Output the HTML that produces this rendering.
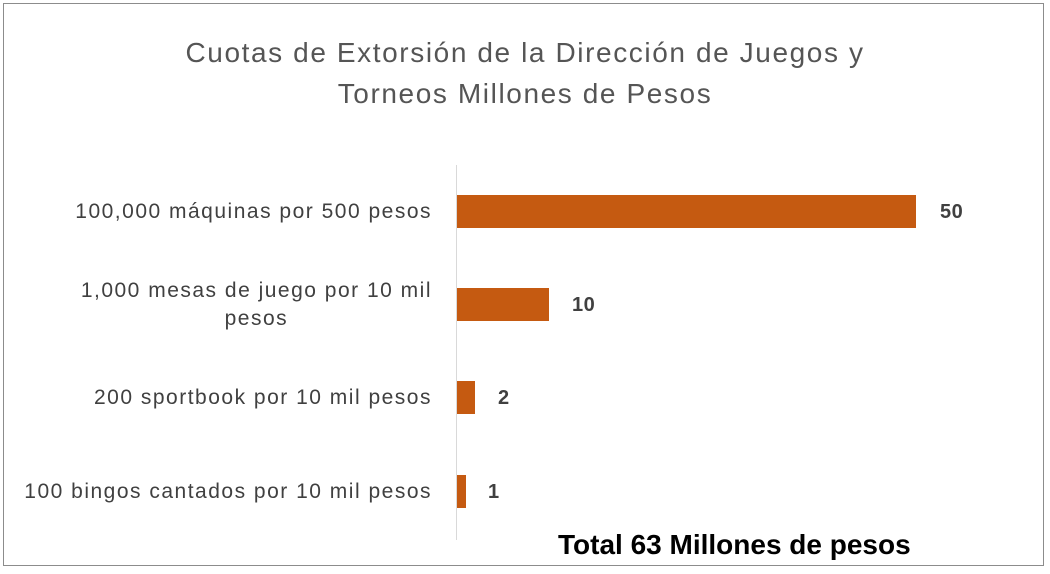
<!DOCTYPE html>
<html><head><meta charset="utf-8"><style>
body{margin:0;width:1050px;height:574px;background:#fff;overflow:hidden;font-family:"Liberation Sans",sans-serif;}
.frame{position:absolute;left:3px;top:3px;width:1041px;height:563px;border:1px solid #8c8c8c;box-sizing:border-box;}
.t{position:absolute;white-space:nowrap;}
.title{left:0;width:1050px;text-align:center;font-size:28px;color:#555;line-height:41px;top:32px;letter-spacing:1.6px;}
.lab{right:618px;text-align:right;font-size:21px;color:#404040;line-height:28px;letter-spacing:1.5px;}
.val{font-size:20px;color:#404040;font-weight:bold;letter-spacing:0.5px;}
.bar{position:absolute;background:#c55a11;height:33px;left:457px;}
</style></head><body>
<div class="frame"></div>
<div class="t title">Cuotas de Extorsión de la Dirección de Juegos y<br>Torneos Millones de Pesos</div>
<div style="position:absolute;left:456px;top:165px;width:1px;height:375px;background:#d9d9d9"></div>
<div class="bar" style="top:195px;width:459px"></div>
<div class="bar" style="top:288px;width:92px"></div>
<div class="bar" style="top:381px;width:18px"></div>
<div class="bar" style="top:475px;width:9px"></div>
<div class="t lab" style="top:198px">100,000 máquinas por 500 pesos</div>
<div class="t lab" style="top:277px;text-align:center">1,000 mesas de juego por 10 mil<br>pesos</div>
<div class="t lab" style="top:384px">200 sportbook por 10 mil pesos</div>
<div class="t lab" style="top:478px">100 bingos cantados por 10 mil pesos</div>
<div class="t val" style="left:940px;top:201px">50</div>
<div class="t val" style="left:572px;top:294px">10</div>
<div class="t val" style="left:498px;top:387px">2</div>
<div class="t val" style="left:488px;top:481px">1</div>
<div class="t" style="left:558px;top:529px;font-size:28px;font-weight:bold;color:#000">Total 63 Millones de pesos</div>
</body></html>
